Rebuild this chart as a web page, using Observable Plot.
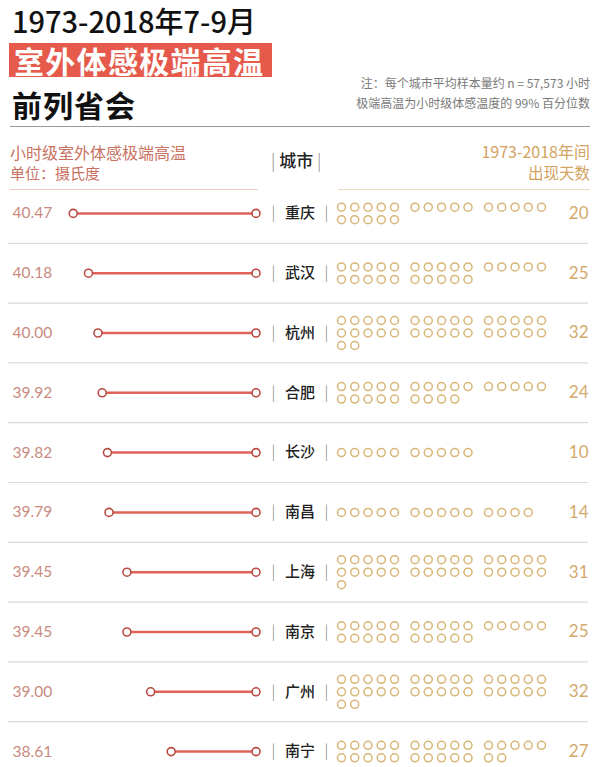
<!DOCTYPE html>
<html>
<head>
<meta charset="utf-8">
<script src="https://cdn.jsdelivr.net/npm/d3@7"></script>
<script src="https://cdn.jsdelivr.net/npm/@observablehq/plot@0.6"></script>
<style>
  html, body { margin:0; padding:0; background:#fff; }
  body { width:600px; height:767px; overflow:hidden; position:relative; font-family:"Noto Sans CJK SC", "Noto Sans", sans-serif; }
  .abs { position:absolute; white-space:nowrap; }
  #t1 { left:12px; top:5px; font-size:29px; line-height:30px; color:#111; font-weight:500; }
  #banner { left:9px; top:43px; width:263px; height:34px; background:#e65a4c; }
  #t2 { left:14px; top:42px; font-size:30px; line-height:36px; color:#fff; font-weight:700; letter-spacing:1.3px; }
  #t3 { left:12px; top:86px; font-size:30px; line-height:36px; color:#111; font-weight:700; letter-spacing:1px; }
  #rule0 { left:10px; top:126px; width:580px; height:0; border-top:1.5px solid #9a9a9a; }
  .note { right:10px; top:73px; font-size:12px; line-height:20px; color:#7a7a7a; text-align:right; }
  .hl { left:10px; top:142px; color:#c87160; font-size:16px; line-height:20px; }
  .hl .small { font-size:15px; }
  .hr { right:10px; top:141px; color:#d3a35f; text-align:right; font-size:16px; line-height:21px; }
  .hr .small { font-size:15.5px; }
  #hc { left:271px; top:149px; font-size:17px; line-height:22px; color:#222; font-weight:500; }
  #hc .bar { color:#888; font-weight:300; }
  #ul1 { left:10px; top:189px; width:248px; border-top:1.2px solid #f1cbbd; }
  #ul2 { left:338px; top:189px; width:252px; border-top:1.2px solid #efdcc0; }
  #plotA { position:absolute; left:0; top:183.2px; width:600px; }
  #plotB { position:absolute; left:330px; top:183.2px; width:270px; }
</style>
</head>
<body>
<div class="abs" id="t1">1973-2018年7-9月</div>
<div class="abs" id="banner"></div>
<div class="abs" id="t2">室外体感极端高温</div>
<div class="abs" id="t3">前列省会</div>
<div class="abs" id="rule0"></div>
<div class="abs note">注：每个城市平均样本量约 n = 57,573 小时<br>极端高温为小时级体感温度的 99% 百分位数</div>
<div class="abs hl">小时级室外体感极端高温<br><span class="small">单位：摄氏度</span></div>
<div class="abs" id="hc"><span class="bar">|</span> 城市 <span class="bar">|</span></div>
<div class="abs hr">1973-2018年间<br><span class="small">出现天数</span></div>
<div class="abs" id="ul1"></div>
<div class="abs" id="ul2"></div>
<div id="plotA"></div>
<div id="plotB"></div>
<script>
const cities = ["重庆","武汉","杭州","合肥","长沙","南昌","上海","南京","广州","南宁"];
const temps = [40.47, 40.18, 40.00, 39.92, 39.82, 39.79, 39.45, 39.45, 39.00, 38.61];
const days = [20, 25, 32, 24, 10, 14, 31, 25, 32, 27];
const baseTemp = 37;
const perRow = 15, perGroup = 5, groupGap = 0.55, subRowStep = 0.209;

const rows = cities.map((city, i) => ({city, temp: temps[i], days: days[i], i}));
const dots = [];
rows.forEach(r => {
  const nrows = Math.ceil(r.days / perRow);
  for (let k = 0; k < r.days; k++) {
    const col = k % perRow, sub = Math.floor(k / perRow);
    dots.push({x: col + Math.floor(col / perGroup) * groupGap, y: r.i + (sub - (nrows - 1) / 2) * subRowStep});
  }
});

const numFont = "Lato, 'Noto Sans CJK SC', sans-serif";
const cjkFont = "'Noto Sans CJK SC', sans-serif";
const yScale = {domain: [-0.5, cities.length - 0.5], reverse: true, axis: null};

const A = Plot.plot({
  width: 600, height: 598,
  marginTop: 0, marginBottom: 0, marginLeft: 44.8, marginRight: 344.5,
  style: {fontFamily: cjkFont, background: "transparent"},
  x: {domain: [41, 37], axis: null},
  y: yScale,
  marks: [
    Plot.ruleY(rows.slice(0, -1), {y: d => d.i + 0.5, stroke: "#dadada", strokeWidth: 1.2, insetLeft: -36.8, insetRight: -332.5}),
    Plot.ruleY(rows, {y: "i", x1: "temp", x2: () => baseTemp, stroke: "#e0635a", strokeWidth: 2.5}),
    Plot.dot(rows, {x: "temp", y: "i", r: 4, stroke: "#b84a43", strokeWidth: 1.6, fill: "white"}),
    Plot.dot(rows, {x: () => baseTemp, y: "i", r: 4, stroke: "#b84a43", strokeWidth: 1.6, fill: "white"}),
    Plot.text(rows, {y: "i", text: d => d.temp.toFixed(2), frameAnchor: "left", dx: -32.8, textAnchor: "start", fill: "#c98a80", fontSize: 15.5, fontFamily: numFont}),
    Plot.text(rows, {y: "i", text: () => "|", frameAnchor: "right", dx: 17.5, textAnchor: "middle", fill: "#888", fontSize: 15, fontWeight: 300}),
    Plot.text(rows, {y: "i", text: "city", frameAnchor: "right", dx: 44, textAnchor: "middle", fill: "#222", fontSize: 15, fontWeight: 500}),
    Plot.text(rows, {y: "i", text: () => "|", frameAnchor: "right", dx: 70.5, textAnchor: "middle", fill: "#888", fontSize: 15, fontWeight: 300})
  ]
});
document.getElementById("plotA").appendChild(A);

const B = Plot.plot({
  width: 270, height: 598,
  marginTop: 0, marginBottom: 0, marginLeft: 11, marginRight: 59,
  style: {fontFamily: numFont, background: "transparent"},
  x: {domain: [0, perRow - 1 + 2 * groupGap], axis: null},
  y: yScale,
  marks: [
    Plot.dot(dots, {x: "x", y: "y", r: 4, stroke: "#d8b677", strokeWidth: 1.5, fill: "none"}),
    Plot.text(rows, {y: "i", text: "days", frameAnchor: "right", dx: 47, textAnchor: "end", fill: "#d3a96c", fontSize: 17})
  ]
});
document.getElementById("plotB").appendChild(B);
</script>
</body>
</html>
